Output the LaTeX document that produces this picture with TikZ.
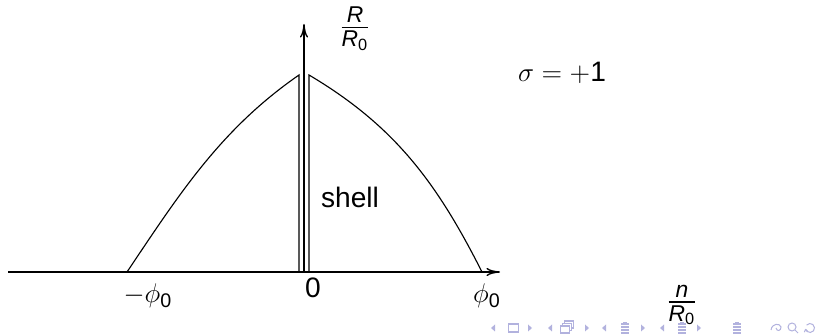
\documentclass[tikz,border=0pt]{standalone}
\usepackage{amsmath}
\usepackage{fontspec}
\setmainfont{Liberation Sans}
\usetikzlibrary{arrows.meta}
\definecolor{navc}{RGB}{178,178,222}
\begin{document}
\begin{tikzpicture}[x=0.1561mm,y=-0.1561mm,
  font=\fontsize{12.5}{15}\selectfont,
  curve/.style={line width=0.5pt},
  axis/.style={line width=0.6pt,-{To[length=6pt,width=3.6pt]}},
  lab/.style={inner sep=0pt},
  frac/.style={inner sep=0pt,font=\fontsize{14.5}{17}\selectfont},
  nav/.style={navc,line width=0.45pt},
  navfill/.style={fill=navc,draw=none}]
\useasboundingbox (0,0) rectangle (820,336);
% axes
\coordinate (xs) at (8,272);
\coordinate (xe) at (500,272);
\coordinate (ys) at (304,272);
\coordinate (ye) at (304,24);
\draw[axis] (xs) -- (xe);
\draw[axis] (ys) -- (ye);
% curves with shell walls
\coordinate (lb) at (127,272);
\coordinate (lt) at (299,75);
\coordinate (lw) at (299,272);
\coordinate (rt) at (309,75);
\coordinate (rw) at (309,272);
\coordinate (rb) at (482,272);
\draw[curve] (lb) .. controls (180,193) and (221,129) .. (lt) -- (lw);
\draw[curve] (rw) -- (rt) .. controls (395,126) and (437,183) .. (rb);
% labels
\node[frac] (Rlab) at (355,29) {$\frac{\textit{R}}{\textit{R}_{\text{0}}}$};
\node[lab] (sig) at (562,73) {$\sigma = +\text{1}$};
\node[lab,anchor=base] (shell) at (350,208) {shell};
\node[lab] (zero) at (313,288) {0};
\node[lab] (mphi) at (148,296) {$-\phi_{\text{0}}$};
\node[lab] (pphi) at (487,296) {$\phi_{\text{0}}$};
\node[frac] (nlab) at (682,305) {$\frac{\textit{n}}{\textit{R}_{\text{0}}}$};
% navigation symbols
\foreach \x in {493,550,604,662} {
  \fill[navfill] (\x+2,324.5) -- (\x-2,328) -- (\x+2,331.5) -- cycle;
}
\foreach \x in {530,587,643,699} {
  \fill[navfill] (\x-2,324.5) -- (\x+2,328) -- (\x-2,331.5) -- cycle;
}
\draw[nav] (508,324) rectangle (518,332);
\draw[nav,fill=white] (564,321) rectangle (573,328);
\draw[nav,fill=white] (562,323.5) rectangle (571,330.5);
\draw[nav,fill=white] (560,326) rectangle (569,333);
\foreach \x in {625,682,737} {
  \draw[nav] (\x-4,324) -- (\x+4,324);
  \draw[nav] (\x-4,327) -- (\x+4,327);
  \draw[nav] (\x-4,330) -- (\x+4,330);
  \draw[nav] (\x-4,333) -- (\x+4,333);
  \draw[nav] (\x-2,322.5) -- (\x+2,322.5);
}
\draw[nav] (771,330) .. controls (772,323) and (780,323) .. (781,327) .. controls (781,331) and (777,332) .. (776,328);
\draw[nav] (792,327) circle (4);
\draw[nav] (795,330) -- (798,333);
\draw[nav,-{To[length=1.5pt,width=2pt]}] (810,328) ++(-140:4.5) arc (-140:170:4.5);
\end{tikzpicture}
\end{document}
